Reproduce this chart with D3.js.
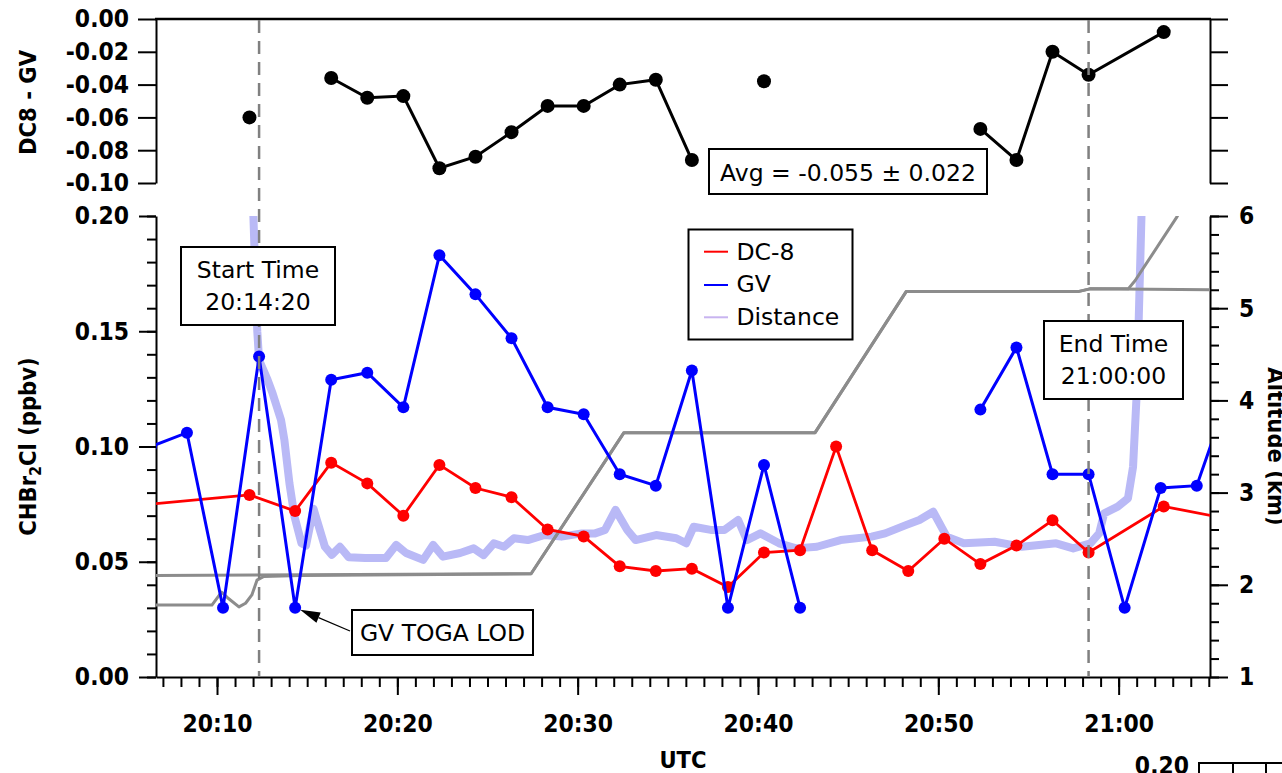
<!DOCTYPE html>
<html>
<head>
<meta charset="utf-8">
<script src="https://cdn.jsdelivr.net/npm/d3@7"></script>
<style>
  body { margin: 0; background: #fff; }
  svg { display: block; background: #fff; }
</style>
</head>
<body>
<svg id="chart" width="1282" height="773"></svg>
<script>
// ---------------- DATA ----------------
// GV (blue) CHBr2Cl, ppbv (null = no sample)
const gvTimes = ["20:06:20","20:08:20","20:10:20","20:12:20","20:14:20","20:16:20","20:18:20","20:20:20","20:22:20","20:24:20","20:26:20","20:28:20","20:30:20","20:32:20","20:34:20","20:36:20","20:38:20","20:40:20","20:42:20","20:44:20","20:46:20","20:48:20","20:50:20","20:52:20","20:54:20","20:56:20","20:58:20","21:00:20","21:02:20","21:04:20","21:06:20"];
const gvValues = [0.100,0.106,0.030,0.139,0.030,0.129,0.132,0.117,0.183,0.166,0.147,0.117,0.114,0.088,0.083,0.133,0.030,0.092,0.030,null,null,null,null,0.116,0.143,0.088,0.088,0.030,0.082,0.083,0.128];

// DC-8 (red) CHBr2Cl, ppbv
const dc8Times = ["20:05:00","20:11:48","20:14:20","20:16:20","20:18:20","20:20:20","20:22:20","20:24:20","20:26:20","20:28:20","20:30:20","20:32:20","20:34:20","20:36:20","20:38:20","20:40:20","20:42:20","20:44:20","20:46:20","20:48:20","20:50:20","20:52:20","20:54:20","20:56:20","20:58:20","21:02:30","21:06:30"];
const dc8Values = [0.074,0.079,0.072,0.093,0.084,0.070,0.092,0.082,0.078,0.064,0.061,0.048,0.046,0.047,0.039,0.054,0.055,0.100,0.055,0.046,0.060,0.049,0.057,0.068,0.054,0.074,0.068];

// DC8 - GV difference (top panel)
const diffTimes = ["20:11:48","20:14:20","20:16:20","20:18:20","20:20:20","20:22:20","20:24:20","20:26:20","20:28:20","20:30:20","20:32:20","20:34:20","20:36:20","20:38:20","20:40:20","20:42:20","20:44:20","20:46:20","20:48:20","20:50:20","20:52:20","20:54:20","20:56:20","20:58:20","21:02:30"];
const diffValues = [-0.060,null,-0.036,-0.048,-0.047,-0.091,-0.084,-0.069,-0.053,-0.053,-0.040,-0.037,-0.086,null,-0.038,null,null,null,null,null,-0.067,-0.086,-0.020,-0.034,-0.008];

// Distance between aircraft (plotted on the left-axis scale)
const distTimes = ["20:11:50","20:12:01","20:12:14","20:12:20","20:12:48","20:13:05","20:13:33","20:13:44","20:14:01","20:14:18","20:14:41","20:14:56","20:15:21","20:15:59","20:16:22","20:16:49","20:17:18","20:18:13","20:19:22","20:19:56","20:20:29","20:21:26","20:21:59","20:22:32","20:23:29","20:24:14","20:24:47","20:25:21","20:25:55","20:26:28","20:27:14","20:28:10","20:29:06","20:30:14","20:30:58","20:31:31","20:32:06","20:32:45","20:33:13","20:34:21","20:35:28","20:36:01","20:36:26","20:37:23","20:38:08","20:38:54","20:39:23","20:40:08","20:41:10","20:42:07","20:43:16","20:44:35","20:46:18","20:47:03","20:48:12","20:48:57","20:49:43","20:50:28","20:51:25","20:53:07","20:54:38","20:56:32","20:57:29","20:58:26","20:58:55","20:59:12","20:59:57","21:00:31","21:00:48","21:00:59","21:01:07","21:01:16","21:01:25"];
const distValues = [0.30,0.200,0.150,0.1375,0.129,0.123,0.1115,0.103,0.084,0.0695,0.058,0.057,0.073,0.0565,0.053,0.0565,0.052,0.0516,0.0516,0.0573,0.0538,0.0508,0.0573,0.0522,0.0538,0.0558,0.0529,0.058,0.0565,0.0602,0.0594,0.0616,0.0609,0.0623,0.0623,0.0638,0.0725,0.0638,0.0594,0.0616,0.0602,0.058,0.0652,0.0638,0.0638,0.0681,0.0594,0.0623,0.058,0.0558,0.0565,0.0594,0.0609,0.0623,0.0659,0.0681,0.0717,0.0609,0.058,0.0587,0.0565,0.058,0.0558,0.058,0.0623,0.071,0.0739,0.0775,0.0912,0.120,0.156,0.200,0.23];

// Altitude traces (km, right axis)
const altATimes = ["20:06:00","20:27:25","20:32:34","20:43:10","20:48:13","20:57:45","20:58:24","21:00:32","21:00:55","21:03:14","21:03:40"];
const altAValues = [2.10,2.12,3.65,3.65,5.18,5.18,5.21,5.21,5.30,5.99,6.15];
const altBTimes = ["20:06:00","20:09:43","20:10:15","20:10:35","20:11:13","20:11:35","20:11:56","20:12:13","20:12:36","20:14:36","20:27:25","20:32:34","20:43:10","20:48:13","20:57:45","20:58:24","21:05:30"];
const altBValues = [1.78,1.78,1.92,1.86,1.76,1.80,1.89,2.05,2.09,2.10,2.12,3.65,3.65,5.18,5.18,5.21,5.20];

// Axis ticks / labels
const xTickTimes = ["20:10:00","20:20:00","20:30:00","20:40:00","20:50:00","21:00:00"];
const xTickLabels = ["20:10","20:20","20:30","20:40","20:50","21:00"];
const yMainTicks = [0, 0.05, 0.10, 0.15, 0.20];
const yMainLabels = ["0.00","0.05","0.10","0.15","0.20"];
const yAltTicks = [1,2,3,4,5,6];
const yAltLabels = ["1","2","3","4","5","6"];
const yTopTicks = [0,-0.02,-0.04,-0.06,-0.08,-0.10];
const yTopLabels = ["0.00","-0.02","-0.04","-0.06","-0.08","-0.10"];
const markerTimes = ["20:12:20","20:58:20"];
const legendLabels = ["DC-8","GV","Distance"];

// ---------------- LAYOUT ----------------
const plotLeft = 156, plotRight = 1210;
const mainTop = 216, mainBottom = 677;
const topTop = 19, topBottom = 183;
const TICKFONT = "'DejaVu Sans Condensed', 'DejaVu Sans', sans-serif";
const TXTFONT = "'DejaVu Sans', sans-serif";

const parseT = d3.timeParse("%H:%M:%S");
const x = d3.scaleTime().domain([parseT("20:06:37"), parseT("21:05:04")]).range([plotLeft, plotRight]);
const yMain = d3.scaleLinear().domain([0, 0.2]).range([mainBottom, mainTop]);
const yAlt = d3.scaleLinear().domain([1, 6]).range([mainBottom, mainTop]);
const yTop = d3.scaleLinear().domain([-0.1, 0]).range([topBottom, topTop]);

const svg = d3.select("#chart");

const defs = svg.append("defs");
defs.append("clipPath").attr("id","clipMain").append("rect")
  .attr("x", plotLeft).attr("y", mainTop).attr("width", plotRight-plotLeft).attr("height", mainBottom-mainTop);
defs.append("clipPath").attr("id","clipTop").append("rect")
  .attr("x", plotLeft).attr("y", 0).attr("width", plotRight-plotLeft).attr("height", 200);

function zip(times, vals) { return times.map((t,i) => ({t: parseT(t), v: vals[i]})); }
const gvData = zip(gvTimes, gvValues);
const dc8Data = zip(dc8Times, dc8Values);
const diffData = zip(diffTimes, diffValues);
const distData = zip(distTimes, distValues);
const altAData = zip(altATimes, altAValues);
const altBData = zip(altBTimes, altBValues);

function styleAxis(g, labelSize) {
  g.selectAll("path.domain").attr("stroke-width", 2).attr("stroke", "#000");
  g.selectAll(".tick line").attr("stroke-width", 2).attr("stroke", "#000");
  g.selectAll("text").style("font-family", TICKFONT).style("font-weight", "bold")
    .style("font-size", (labelSize || 24.4) + "px").attr("fill", "#000");
}

// ---------------- AXES: MAIN ----------------
const gxMinor = svg.append("g").attr("transform", `translate(0,${mainBottom})`)
  .call(d3.axisBottom(x).ticks(d3.timeMinute.every(1)).tickSize(10).tickSizeOuter(0).tickFormat(""));
gxMinor.select(".domain").remove();
styleAxis(gxMinor);
const gxMajor = svg.append("g").attr("transform", `translate(0,${mainBottom})`)
  .call(d3.axisBottom(x).tickValues(xTickTimes.map(parseT)).tickSize(18).tickSizeOuter(0).tickPadding(20)
    .tickFormat((d,i) => xTickLabels[i]));
styleAxis(gxMajor);

const gyMinor = svg.append("g").attr("transform", `translate(${plotLeft},0)`)
  .call(d3.axisLeft(yMain).tickValues(d3.range(0, 0.2001, 0.01)).tickSize(9).tickSizeOuter(0).tickFormat(""));
gyMinor.select(".domain").remove();
styleAxis(gyMinor);
const gyMajor = svg.append("g").attr("transform", `translate(${plotLeft},0)`)
  .call(d3.axisLeft(yMain).tickValues(yMainTicks).tickSize(17).tickSizeOuter(0).tickPadding(10)
    .tickFormat((d,i) => yMainLabels[i]));
styleAxis(gyMajor);

const gaMinor = svg.append("g").attr("transform", `translate(${plotRight},0)`)
  .call(d3.axisRight(yAlt).tickValues(d3.range(1, 6.001, 0.2)).tickSize(9).tickSizeOuter(0).tickFormat(""));
gaMinor.select(".domain").remove();
styleAxis(gaMinor);
const gaMajor = svg.append("g").attr("transform", `translate(${plotRight},0)`)
  .call(d3.axisRight(yAlt).tickValues(yAltTicks).tickSize(18).tickSizeOuter(0).tickPadding(11)
    .tickFormat((d,i) => yAltLabels[i]));
styleAxis(gaMajor);

// ---------------- AXES: TOP PANEL ----------------
const gtLeft = svg.append("g").attr("transform", `translate(${plotLeft},0)`)
  .call(d3.axisLeft(yTop).tickValues(yTopTicks).tickSize(18).tickSizeOuter(0).tickPadding(9)
    .tickFormat((d,i) => yTopLabels[i]));
styleAxis(gtLeft);
const gtRight = svg.append("g").attr("transform", `translate(${plotRight},0)`)
  .call(d3.axisRight(yTop).tickValues(yTopTicks).tickSize(18).tickSizeOuter(0).tickFormat(""));
styleAxis(gtRight);
svg.append("line").attr("x1", plotLeft-1).attr("x2", plotRight+1).attr("y1", yTop(0)).attr("y2", yTop(0))
  .attr("stroke", "#000").attr("stroke-width", 2.5);

// ---------------- AXIS TITLES ----------------
const title = (txt, tx, ty, rot) => svg.append("text")
  .attr("transform", `translate(${tx},${ty}) rotate(${rot})`)
  .attr("text-anchor", "middle")
  .style("font-family", TICKFONT).style("font-weight", "bold").style("font-size", "23.5px")
  .text(txt);
const yTitle = svg.append("text")
  .attr("transform", `translate(36,${(mainTop+mainBottom)/2}) rotate(-90)`)
  .attr("text-anchor", "middle")
  .style("font-family", TICKFONT).style("font-weight", "bold").style("font-size", "23.5px");
yTitle.append("tspan").text("CHBr");
yTitle.append("tspan").text("2").attr("font-size", "16px").attr("dy", "5");
yTitle.append("tspan").text("Cl (ppbv)").attr("dy", "-5");
title("DC8 - GV", 36, 102.5, -90);
title("Altitude (km)", 1268, (mainTop+mainBottom)/2, 90);
svg.append("text").attr("x", 683).attr("y", 768).attr("text-anchor", "middle")
  .style("font-family", TICKFONT).style("font-weight", "bold").style("font-size", "23.5px").text("UTC");

// fragment of the next panel at the bottom right
svg.append("text").attr("x", 1189).attr("y", 774).attr("text-anchor", "end")
  .style("font-family", TICKFONT).style("font-weight", "bold").style("font-size", "24.4px").text("0.20");
svg.append("line").attr("x1", 1198).attr("x2", 1282).attr("y1", 763).attr("y2", 763).attr("stroke", "#000").attr("stroke-width", 2);
[1199, 1233, 1266].forEach(px => svg.append("line").attr("x1", px).attr("x2", px).attr("y1", 763).attr("y2", 773)
  .attr("stroke", "#000").attr("stroke-width", 2));

// ---------------- SERIES: MAIN ----------------
const gMain = svg.append("g").attr("clip-path", "url(#clipMain)");

const lineDist = d3.line().x(d => x(d.t)).y(d => yMain(d.v));
gMain.append("path").datum(distData).attr("d", lineDist)
  .attr("fill", "none").attr("stroke", "#b9b9f6").attr("stroke-width", 8).attr("stroke-linejoin", "round");

const lineAlt = d3.line().x(d => x(d.t)).y(d => yAlt(d.v));
[altBData, altAData].forEach(dat => gMain.append("path").datum(dat).attr("d", lineAlt)
  .attr("fill", "none").attr("stroke", "#8c8c8c").attr("stroke-width", 3).attr("stroke-linejoin", "round"));

const lineConc = d3.line().defined(d => d.v != null).x(d => x(d.t)).y(d => yMain(d.v));
gMain.append("path").datum(dc8Data).attr("d", lineConc)
  .attr("fill", "none").attr("stroke", "#ff0000").attr("stroke-width", 2.8);
gMain.selectAll("circle.dc8").data(dc8Data.filter(d => d.v != null)).enter().append("circle")
  .attr("class", "dc8").attr("cx", d => x(d.t)).attr("cy", d => yMain(d.v)).attr("r", 6).attr("fill", "#ff0000");

gMain.append("path").datum(gvData).attr("d", lineConc)
  .attr("fill", "none").attr("stroke", "#0000ff").attr("stroke-width", 3);
gMain.selectAll("circle.gv").data(gvData.filter(d => d.v != null)).enter().append("circle")
  .attr("class", "gv").attr("cx", d => x(d.t)).attr("cy", d => yMain(d.v)).attr("r", 6).attr("fill", "#0000ff");

// ---------------- SERIES: TOP ----------------
const gTop = svg.append("g").attr("clip-path", "url(#clipTop)");
const lineDiff = d3.line().defined(d => d.v != null).x(d => x(d.t)).y(d => yTop(d.v));
gTop.append("path").datum(diffData).attr("d", lineDiff)
  .attr("fill", "none").attr("stroke", "#000").attr("stroke-width", 3);
gTop.selectAll("circle").data(diffData.filter(d => d.v != null)).enter().append("circle")
  .attr("cx", d => x(d.t)).attr("cy", d => yTop(d.v)).attr("r", 7).attr("fill", "#000");

// ---------------- DASHED TIME MARKERS ----------------
markerTimes.forEach(t => svg.append("line")
  .attr("x1", x(parseT(t))).attr("x2", x(parseT(t))).attr("y1", topTop + 1).attr("y2", mainBottom)
  .attr("stroke", "#808080").attr("stroke-width", 2.5).attr("stroke-dasharray", "13,8"));

// ---------------- ANNOTATIONS ----------------
function box(x0, y0, x1, y1) {
  svg.append("rect").attr("x", x0).attr("y", y0).attr("width", x1-x0).attr("height", y1-y0)
    .attr("fill", "#fff").attr("stroke", "#000").attr("stroke-width", 2);
}
function label(txt, tx, ty, anchor) {
  return svg.append("text").attr("x", tx).attr("y", ty).attr("text-anchor", anchor || "middle")
    .style("font-family", TXTFONT).style("font-size", "23.5px").attr("fill", "#000").text(txt);
}

box(181, 247, 335, 325);
label("Start Time", 258, 278);
label("20:14:20", 258, 309.5);

box(1044, 321, 1183, 399);
label("End Time", 1113.5, 352);
label("21:00:00", 1113.5, 383.5);

// GV TOGA LOD arrow
const tipX = x(parseT("20:14:20")) + 5, tipY = yMain(0.030) + 2;
const tailX = 350, tailY = 631;
const ang = Math.atan2(tailY - tipY, tailX - tipX);
const hl = 20, hw = 5.5;
const bx = tipX + hl * Math.cos(ang), by = tipY + hl * Math.sin(ang);
svg.append("line").attr("x1", tailX).attr("y1", tailY).attr("x2", bx).attr("y2", by)
  .attr("stroke", "#000").attr("stroke-width", 1.2);
svg.append("polygon").attr("points", [
  [tipX, tipY],
  [bx - hw * Math.sin(ang), by + hw * Math.cos(ang)],
  [bx + hw * Math.sin(ang), by - hw * Math.cos(ang)]
].map(p => p.join(",")).join(" ")).attr("fill", "#000");
box(352, 610, 533, 655);
label("GV TOGA LOD", 442.5, 641);

box(709, 149, 987, 194);
label("Avg = -0.055 \u00B1 0.022", 848, 180.5);

// ---------------- LEGEND ----------------
box(688.5, 229.5, 852.5, 339.5);
const legColors = ["#ff0000", "#0000ff", "#c8b4f0"];
const legLineY = [251.7, 285, 317.3];
const legTextY = [259.5, 292, 325];
legendLabels.forEach((name, i) => {
  svg.append("line").attr("x1", 704).attr("x2", 728).attr("y1", legLineY[i]).attr("y2", legLineY[i])
    .attr("stroke", legColors[i]).attr("stroke-width", 2);
  label(name, 736.5, legTextY[i], "start");
});
</script>
</body>
</html>
